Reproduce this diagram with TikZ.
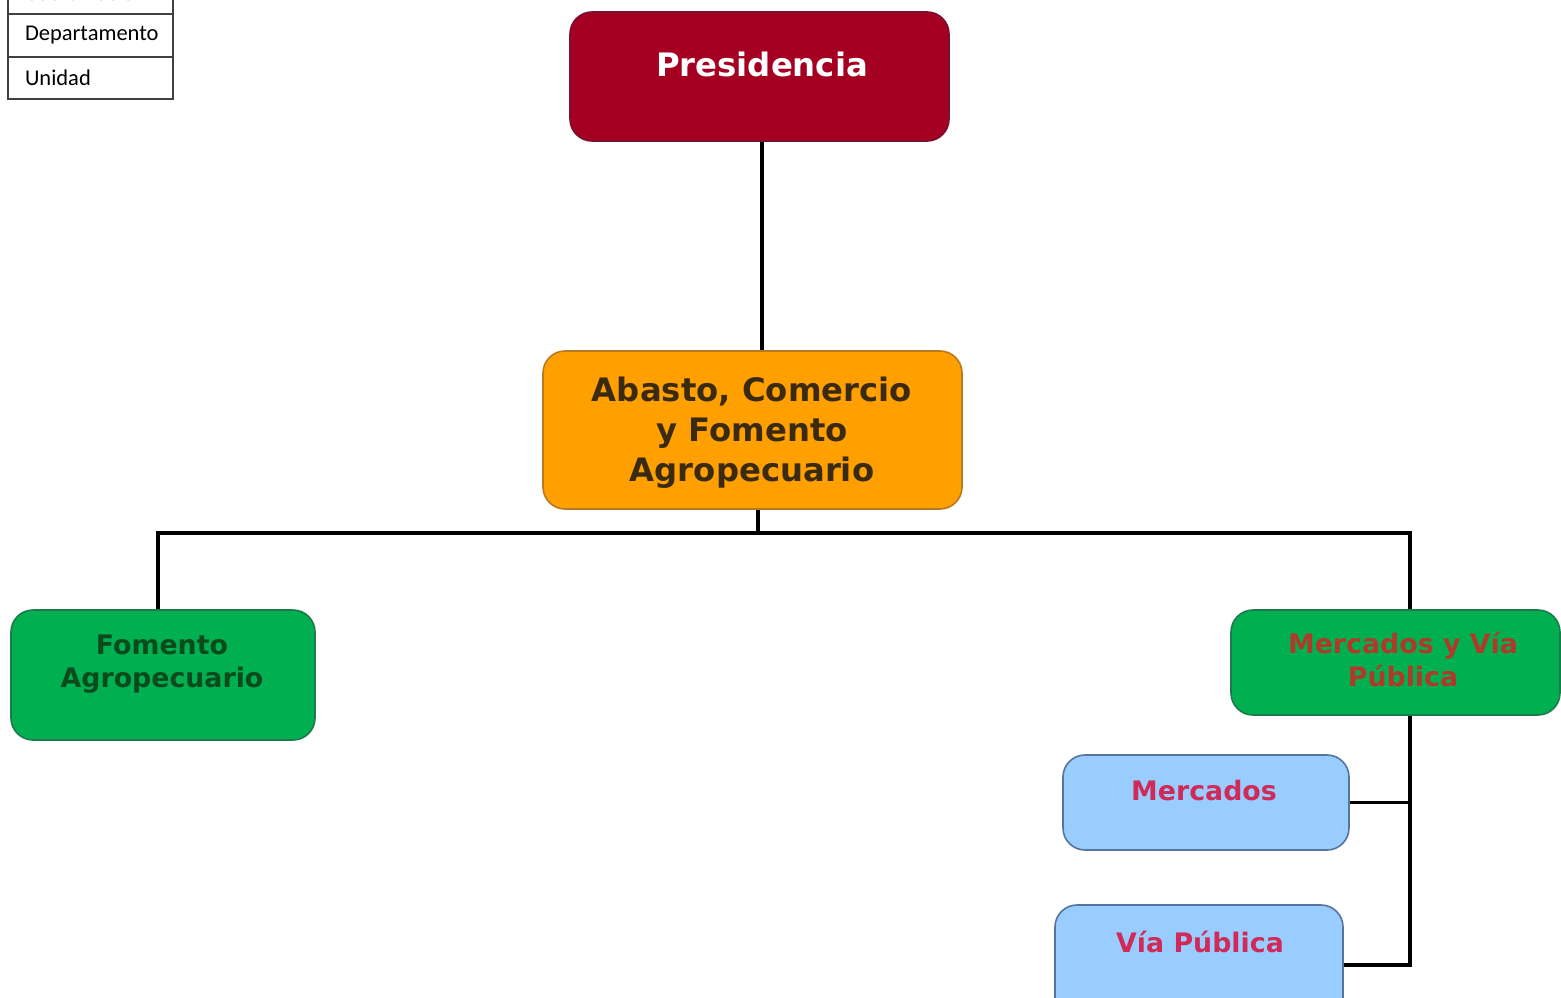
\documentclass[tikz,border=0pt]{standalone}
\usepackage{fontspec}
\setmainfont{DejaVu Sans}
\newfontfamily\legendfont{Carlito}
\definecolor{presred}{HTML}{A50021}
\definecolor{presedge}{HTML}{7A1030}
\definecolor{orangefill}{HTML}{FF9F00}
\definecolor{orangeedge}{HTML}{B87A20}
\definecolor{abtext}{HTML}{3A2A10}
\definecolor{greenfill}{HTML}{00B050}
\definecolor{greenedge}{HTML}{1E7A4E}
\definecolor{fomtext}{HTML}{0B4A1C}
\definecolor{mvptext}{HTML}{B03A2A}
\definecolor{bluefill}{HTML}{99CCFF}
\definecolor{blueedge}{HTML}{55749E}
\definecolor{crimson}{HTML}{D02A58}
\definecolor{legedge}{HTML}{404040}
\begin{document}
\begin{tikzpicture}[x=1pt,y=-1pt,
  box/.style={draw, rounded corners=22pt, line width=1.6pt, inner sep=0pt},
  conn/.style={line width=3.8pt, black},
  bigtxt/.style={font=\bfseries\fontsize{32.3}{40}\selectfont, align=center},
  smalltxt/.style={font=\bfseries\fontsize{26.8}{33}\selectfont, align=center},
  leg/.style={draw=legedge, line width=1.4pt, minimum width=165pt, minimum height=42pt,
    text width=131pt, inner xsep=17pt, align=left, font=\legendfont\fontsize{22.5}{26}\selectfont}
]
\useasboundingbox (0,0) rectangle (1561,998);
\clip (0,0) rectangle (1561,998);

% legend
\node[leg] (legC) at (90.5,-7) {Coordinación};
\node[leg] (legD) at (90.5,35.5) {\raisebox{-3pt}{Departamento}};
\node[leg] (legU) at (90.5,78) {\raisebox{-1pt}{Unidad}};

% boxes
\node[box, fill=presred, draw=presedge, minimum width=379pt, minimum height=129pt] (pres) at (759.5,76.5) {};
\node[bigtxt, text=white] (presT) at (762,64) {Presidencia};

\node[box, fill=orangefill, draw=orangeedge, minimum width=419pt, minimum height=158pt] (abasto) at (752.5,430) {};
\node[bigtxt, text=abtext] (abastoT) at (752,433) {Abasto, Comercio\\y Fomento\\Agropecuario};

\node[box, fill=greenfill, draw=greenedge, minimum width=304pt, minimum height=130pt] (fom) at (163,675) {};
\node[smalltxt, text=fomtext] (fomT) at (162,664) {Fomento\\Agropecuario};

\node[box, fill=greenfill, draw=greenedge, minimum width=329pt, minimum height=105pt] (mvp) at (1395.5,662.5) {};
\node[smalltxt, text=mvptext] (mvpT) at (1403,659) {Mercados y Vía\\Pública};

\node[box, fill=bluefill, draw=blueedge, minimum width=286pt, minimum height=95pt] (merc) at (1206,802.5) {};
\node[smalltxt, text=crimson] (mercT) at (1204,791) {Mercados};

\node[box, fill=bluefill, draw=blueedge, minimum width=288pt, minimum height=120pt] (via) at (1199,965) {};
\node[smalltxt, text=crimson] (viaT) at (1200,942) {Vía Pública};

% connectors
\coordinate (bus) at (758,533);
\coordinate (busL) at (158,533);
\coordinate (busR) at (1410,533);
\draw[conn] (pres.south -| presT) -- (presT |- abasto.north);
\draw[conn] (abasto.south -| bus) -- (bus);
\draw[conn] (busL |- fom.north) -- (busL) -- (busR) -- (busR |- mvp.north);
\draw[conn] (busR |- mvp.south) -- (busR |- via.east) -- (via.east);
\draw[conn] (merc.east) -- (busR |- merc.east);
\end{tikzpicture}
\end{document}
